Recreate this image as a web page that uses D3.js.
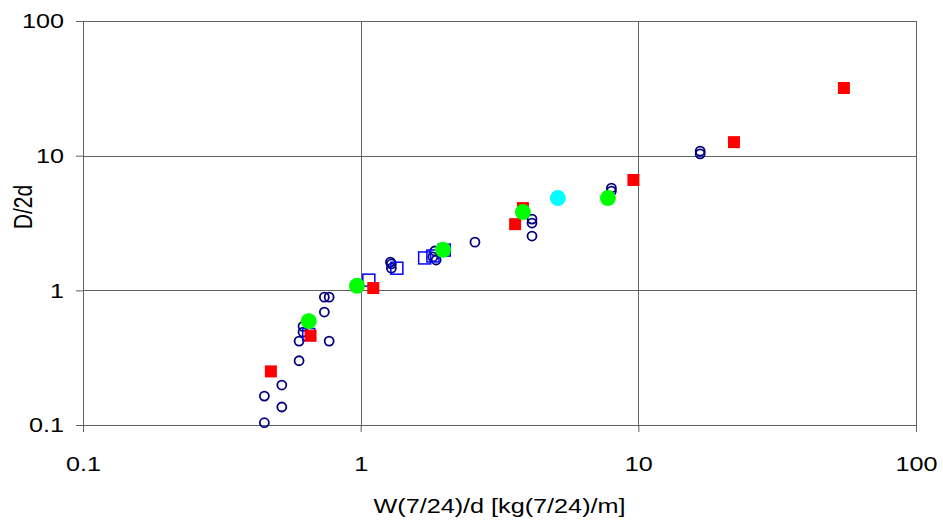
<!DOCTYPE html>
<html>
<head>
<meta charset="utf-8">
<script src="https://cdnjs.cloudflare.com/ajax/libs/d3/7.8.5/d3.min.js"></script>
<style>
    body { margin: 0; background: #fff; }
    svg { display: block; font-family: "Liberation Sans", Arial, sans-serif; }
</style>
</head>
<body>
<div id="chart"></div>
<script>
// Values (log-log scatter)
const circleX = [0.45, 0.52, 0.45, 0.52, 0.60, 0.60, 0.77, 0.62, 0.62, 0.74, 0.74, 0.77,
    1.29, 1.29, 1.28, 1.82, 1.85, 1.87, 2.58, 4.14, 4.14, 4.14, 8.0, 8.0, 16.7, 16.7];
const circleY = [0.104, 0.136, 0.164, 0.198, 0.30, 0.42, 0.42, 0.49, 0.54, 0.69, 0.89, 0.89,
    1.57, 1.46, 1.62, 1.77, 1.96, 1.68, 2.28, 3.38, 3.16, 2.53, 5.75, 5.46, 10.8, 10.3];

const openSquareX = [0.65, 1.07, 1.35, 1.70, 1.82, 2.0];
const openSquareY = [0.47, 1.19, 1.46, 1.74, 1.80, 1.99];

const redSquareX = [0.475, 0.66, 1.11, 3.6, 3.84, 9.6, 22.1, 55];
const redSquareY = [0.25, 0.46, 1.04, 3.1, 4.08, 6.6, 12.6, 31.8];

const greenX = [0.65, 0.97, 1.98, 3.84, 7.77];
const greenY = [0.59, 1.08, 2.0, 3.81, 4.84];

const cyanX = [5.13];
const cyanY = [4.84];

const tickValues = [0.1, 1, 10, 100];
const tickLabels = ['0.1', '1', '10', '100'];

const xTitle = 'W(7/24)/d [kg(7/24)/m]';
const yTitle = 'D/2d';

const width = 943, height = 528;
const margin = { top: 21, right: 27, bottom: 103, left: 83 };
const plotW = width - margin.left - margin.right;
const plotH = height - margin.top - margin.bottom;
const gridColor = '#606060';
const stretch = 1.2;   // the reference text is a bit wide for its height

const svg = d3.select('#chart').append('svg')
    .attr('width', width)
    .attr('height', height);

const g = svg.append('g')
    .attr('transform', `translate(${margin.left},${margin.top})`);

const x = d3.scaleLog().domain([0.1, 100]).range([0, plotW]);
const y = d3.scaleLog().domain([0.1, 100]).range([plotH, 0]);

const zip = (xs, ys) => xs.map((v, i) => [v, ys[i]]);

// Gridlines
g.append('g')
    .selectAll('line')
    .data(tickValues)
    .join('line')
    .attr('x1', d => Math.round(x(d)) + 0.5)
    .attr('x2', d => Math.round(x(d)) + 0.5)
    .attr('y1', 0)
    .attr('y2', plotH)
    .attr('stroke', gridColor);

g.append('g')
    .selectAll('line')
    .data(tickValues)
    .join('line')
    .attr('y1', d => Math.round(y(d)) + 0.5)
    .attr('y2', d => Math.round(y(d)) + 0.5)
    .attr('x1', 0)
    .attr('x2', plotW)
    .attr('stroke', gridColor);

// Axes
const xAxis = d3.axisBottom(x)
    .tickValues(tickValues)
    .tickFormat((d, i) => tickLabels[i])
    .tickSize(7)
    .tickPadding(24)
    .offset(0.5);

const yAxis = d3.axisLeft(y)
    .tickValues(tickValues)
    .tickFormat((d, i) => tickLabels[i])
    .tickSize(7)
    .tickPadding(12)
    .offset(0.5);

const gx = g.append('g')
    .attr('transform', `translate(0,${Math.round(plotH)})`)
    .call(xAxis);

const gy = g.append('g')
    .call(yAxis);

[gx, gy].forEach(a => {
    a.select('.domain').attr('stroke', gridColor);
    a.selectAll('.tick line').attr('stroke', gridColor);
    a.selectAll('.tick text')
        .attr('fill', '#000')
        .attr('transform', `scale(${stretch},1)`)
        .style('font-size', '21px')
        .style('font-family', '"Liberation Sans", Arial, sans-serif');
});
gy.selectAll('.tick text').attr('x', -19 / stretch);

// Axis titles
svg.append('text')
    .attr('transform', `translate(${margin.left + plotW / 2},513) scale(${stretch},1)`)
    .attr('text-anchor', 'middle')
    .style('font-size', '21px')
    .text(xTitle);

svg.append('text')
    .attr('transform', `translate(32,207) rotate(-90) scale(1,${stretch})`)
    .attr('text-anchor', 'middle')
    .style('font-size', '21px')
    .text(yTitle);

// Markers
g.append('g')
    .selectAll('circle')
    .data(zip(circleX, circleY))
    .join('circle')
    .attr('cx', d => x(d[0]))
    .attr('cy', d => y(d[1]))
    .attr('r', 4.5)
    .attr('fill', 'none')
    .attr('stroke', '#000080')
    .attr('stroke-width', 1.8);

g.append('g')
    .selectAll('rect')
    .data(zip(openSquareX, openSquareY))
    .join('rect')
    .attr('x', d => x(d[0]) - 6)
    .attr('y', d => y(d[1]) - 6)
    .attr('width', 12)
    .attr('height', 12)
    .attr('fill', 'none')
    .attr('stroke', '#0000ff')
    .attr('stroke-width', 1.5);

g.append('g')
    .selectAll('rect')
    .data(zip(redSquareX, redSquareY))
    .join('rect')
    .attr('x', d => x(d[0]) - 6)
    .attr('y', d => y(d[1]) - 6)
    .attr('width', 12)
    .attr('height', 12)
    .attr('fill', '#ff0000');

g.append('g')
    .selectAll('circle')
    .data(zip(greenX, greenY))
    .join('circle')
    .attr('cx', d => x(d[0]))
    .attr('cy', d => y(d[1]))
    .attr('r', 8)
    .attr('fill', '#00ff00');

g.append('g')
    .selectAll('circle')
    .data(zip(cyanX, cyanY))
    .join('circle')
    .attr('cx', d => x(d[0]))
    .attr('cy', d => y(d[1]))
    .attr('r', 8)
    .attr('fill', '#00ffff');
</script>
</body>
</html>
